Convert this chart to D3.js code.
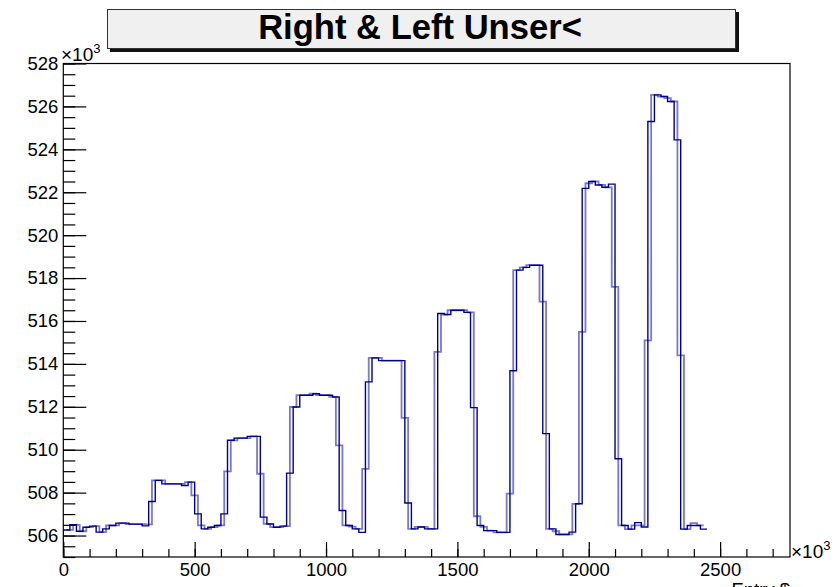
<!DOCTYPE html>
<html>
<head>
<meta charset="utf-8">
<script src="https://cdn.jsdelivr.net/npm/d3@7"></script>
<style>
  body { margin: 0; background: #fff; }
  svg { display: block; font-family: "Liberation Sans", Arial, Helvetica, sans-serif; }
</style>
</head>
<body>
<svg id="chart" width="839" height="587"></svg>
<script>
// bins are 25 (x10^3 entries) wide; the two series are offset by half a bin
var binWidth = 25;
var rightStart = 0;
var leftStart = 12.5;

var rightVals = [
  506.26, 506.5, 506.2, 506.39, 506.44, 506.16, 506.31, 506.47, 506.58, 506.58,
  506.53, 506.53, 506.45, 507.59, 508.57, 508.41, 508.41, 508.41, 508.33, 508.49,
  507.01, 506.31, 506.39, 506.47, 507.01, 510.44, 510.54, 510.54, 510.62, 510.62,
  506.86, 506.54, 506.39, 506.44, 508.91, 511.99, 512.54, 512.54, 512.61, 512.54,
  512.54, 512.46, 507.17, 506.47, 506.31, 506.15, 513.16, 514.28, 514.15, 514.15,
  514.15, 514.15, 507.52, 506.31, 506.4, 506.31, 506.31, 516.35, 516.3, 516.5,
  516.5, 516.4, 511.96, 506.47, 506.23, 506.23, 506.15, 506.15, 513.68, 518.37,
  518.5, 518.6, 518.6, 510.75, 506.31, 506.05, 506.05, 506.16, 507.48, 522.18,
  522.5, 522.34, 522.23, 522.38, 509.58, 506.47, 506.3, 506.6, 506.4, 525.3,
  526.54, 526.46, 526.23, 524.44, 506.3, 506.47, 506.47, 506.3
];

var leftVals = [
  506.26, 506.5, 506.2, 506.39, 506.44, 506.16, 506.47, 506.47, 506.58, 506.53,
  506.53, 506.53, 506.52, 508.57, 508.57, 508.41, 508.41, 508.41, 508.49, 507.87,
  506.47, 506.31, 506.39, 506.47, 508.99, 510.44, 510.54, 510.54, 510.62, 508.88,
  506.54, 506.39, 506.39, 506.44, 511.99, 512.54, 512.54, 512.61, 512.54, 512.54,
  512.46, 510.2, 506.47, 506.42, 506.31, 509.11, 514.28, 514.28, 514.15, 514.15,
  514.15, 511.48, 506.31, 506.4, 506.4, 506.31, 514.56, 516.3, 516.5, 516.5,
  516.5, 516.4, 506.9, 506.4, 506.23, 506.15, 506.15, 507.95, 518.37, 518.5,
  518.6, 518.6, 516.9, 506.31, 506.2, 506.05, 506.05, 507.48, 515.49, 522.42,
  522.5, 522.34, 522.23, 517.59, 506.47, 506.3, 506.47, 506.47, 515.1, 526.54,
  526.46, 526.39, 526.23, 514.4, 506.3, 506.58, 506.47
];

var xMajorTicks = [0, 500, 1000, 1500, 2000, 2500];
var xMinorTicks = d3.range(0, 2800, 100);
var yMajorTicks = [506, 508, 510, 512, 514, 516, 518, 520, 522, 524, 526, 528];
var yMinorTicks = d3.range(505, 528.01, 0.5);

var titleText = "Right & Left Unser<";
var yTitle = "Right_Unser_";
var xTitle = "Entry $";

var frame = { left: 63.3, right: 790, top: 63.5, bottom: 557 };

var svg = d3.select("#chart");

var x = d3.scaleLinear().domain([0, 2766]).range([frame.left, frame.right]);
var y = d3.scaleLinear().domain([505, 528]).range([frame.bottom, frame.top]);

// title box with shadow
svg.append("rect")
  .attr("x", 110).attr("y", 12)
  .attr("width", 629).attr("height", 40)
  .attr("fill", "#111");
svg.append("rect")
  .attr("x", 107.5).attr("y", 9.5)
  .attr("width", 628).attr("height", 39)
  .attr("fill", "#f0f0f0")
  .attr("stroke", "#333")
  .attr("stroke-width", 1);
svg.append("text")
  .attr("x", 420).attr("y", 38.5)
  .attr("text-anchor", "middle")
  .style("font-weight", "bold")
  .style("font-size", "34.6px")
  .text(titleText);

// clip for the histogram lines
svg.append("clipPath").attr("id", "plotclip")
  .append("rect")
  .attr("x", frame.left).attr("y", frame.top)
  .attr("width", frame.right - frame.left)
  .attr("height", frame.bottom - frame.top);

// step outline of a histogram; optionally rising from the bottom at its first edge
function stepPath(start, vals, fromBottom) {
  var pts = [];
  if (fromBottom) pts.push([start, 505]);
  vals.forEach(function (v, i) {
    pts.push([start + i * binWidth, v]);
    pts.push([start + (i + 1) * binWidth, v]);
  });
  return d3.line()
    .x(function (d) { return x(d[0]); })
    .y(function (d) { return y(d[1]); })(pts);
}

var g = svg.append("g").attr("clip-path", "url(#plotclip)");

g.append("path")
  .attr("d", stepPath(leftStart, leftVals, false))
  .attr("fill", "none")
  .attr("stroke", "#4b4bc0")
  .attr("stroke-opacity", 0.75)
  .attr("stroke-width", 1.8);

g.append("path")
  .attr("d", stepPath(rightStart, rightVals, true))
  .attr("fill", "none")
  .attr("stroke", "#00008f")
  .attr("stroke-width", 1.4);

// frame
svg.append("rect")
  .attr("x", frame.left).attr("y", frame.top)
  .attr("width", frame.right - frame.left)
  .attr("height", frame.bottom - frame.top)
  .attr("fill", "none")
  .attr("stroke", "#000")
  .attr("stroke-width", 1.2);

// y axis
var yMinor = svg.append("g")
  .attr("transform", "translate(" + frame.left + ",0)")
  .call(d3.axisLeft(y).tickValues(yMinorTicks).tickSize(-12).tickFormat(""));
var yMajor = svg.append("g")
  .attr("transform", "translate(" + frame.left + ",0)")
  .call(d3.axisLeft(y).tickValues(yMajorTicks).tickSize(-23).tickPadding(5).tickFormat(d3.format("d")));

// x axis
var xMinor = svg.append("g")
  .attr("transform", "translate(0," + frame.bottom + ")")
  .call(d3.axisBottom(x).tickValues(xMinorTicks).tickSize(-8).tickFormat(""));
var xMajor = svg.append("g")
  .attr("transform", "translate(0," + frame.bottom + ")")
  .call(d3.axisBottom(x).tickValues(xMajorTicks).tickSize(-15).tickPadding(6).tickFormat(d3.format("d")));

[yMinor, yMajor, xMinor, xMajor].forEach(function (a) {
  a.select(".domain").remove();
  a.selectAll("line").attr("stroke", "#000").attr("stroke-width", 1.2);
  a.selectAll("text")
    .attr("fill", "#000")
    .style("font-size", "18.5px")
    .style("font-family", "'Liberation Sans', Arial, sans-serif");
});

// x10^3 exponents
function exponent(px, py) {
  var t = svg.append("text").attr("x", px).attr("y", py).style("font-size", "19px");
  t.append("tspan").text("\u00d710");
  t.append("tspan").attr("dy", -8).style("font-size", "13px").text("3");
}
exponent(61, 61);
exponent(791, 558);

// axis titles, mostly outside the canvas as in the original
svg.append("clipPath").attr("id", "ytclip")
  .append("rect").attr("x", 14.5).attr("y", 0).attr("width", 20).attr("height", 300);
svg.append("text")
  .attr("clip-path", "url(#ytclip)")
  .attr("transform", "translate(15,64) rotate(-90)")
  .attr("text-anchor", "end")
  .style("font-size", "18.5px")
  .text(yTitle);

svg.append("text")
  .attr("x", 790).attr("y", 596)
  .attr("text-anchor", "end")
  .style("font-size", "18.5px")
  .text(xTitle);
</script>
</body>
</html>
